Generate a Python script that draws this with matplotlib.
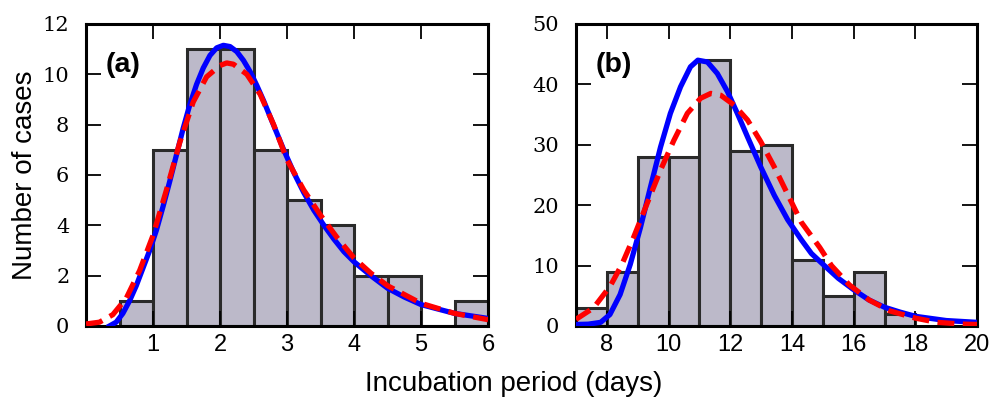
import numpy as np
import matplotlib.pyplot as plt

# panel (a): histogram, bin width 0.5 days
a_edges = [0.5, 1.0, 1.5, 2.0, 2.5, 3.0, 3.5, 4.0, 4.5, 5.0, 5.5]
a_counts = [1, 7, 11, 11, 7, 5, 4, 2, 2, 0, 1]
# fitted curves
a_blue_x = [0.35, 0.45, 0.55, 0.65, 0.75, 0.85, 0.95, 1.05, 1.15, 1.25, 1.35, 1.45, 1.55, 1.65, 1.75, 1.85, 1.95, 2.05, 2.15, 2.25, 2.35, 2.45, 2.55, 2.65, 2.75, 2.85, 2.95, 3.1, 3.25, 3.4, 3.55, 3.7, 3.85, 4.0, 4.25, 4.5, 4.75, 5.0, 5.5, 6.0]
a_blue_y = [0.0, 0.15, 0.5, 1.0, 1.6, 2.3, 3.0, 3.8, 4.75, 5.75, 6.8, 7.85, 8.8, 9.6, 10.25, 10.75, 11.05, 11.15, 11.1, 10.9, 10.55, 10.1, 9.55, 8.95, 8.3, 7.65, 7.0, 6.1, 5.3, 4.6, 4.0, 3.45, 2.95, 2.55, 2.0, 1.5, 1.15, 0.85, 0.5, 0.3]
a_red_x = [0.0, 0.2, 0.4, 0.6, 0.8, 1.0, 1.2, 1.4, 1.6, 1.8, 2.0, 2.1, 2.2, 2.4, 2.6, 2.8, 3.0, 3.25, 3.5, 3.75, 4.0, 4.25, 4.5, 5.0, 5.5, 6.0]
a_red_y = [0.08, 0.15, 0.45, 1.1, 2.2, 3.6, 5.4, 7.3, 8.9, 9.9, 10.35, 10.45, 10.4, 10.0, 9.2, 8.0, 6.6, 5.4, 4.4, 3.5, 2.7, 2.1, 1.6, 0.9, 0.5, 0.25]

# panel (b): histogram, bin width 1 day
b_edges = [7, 8, 9, 10, 11, 12, 13, 14, 15, 16, 17]
b_counts = [3, 9, 28, 28, 44, 29, 30, 11, 5, 9, 2]
b_blue_x = [7.0, 7.4, 7.8, 8.1, 8.43, 8.76, 9.09, 9.41, 9.74, 10.06, 10.39, 10.71, 10.95, 11.26, 11.58, 11.91, 12.23, 12.56, 12.99, 13.43, 13.86, 14.3, 14.63, 15.05, 15.5, 16.0, 16.5, 17.0, 17.5, 18.0, 19.0, 20.0]
b_blue_y = [0.25, 0.3, 0.6, 1.9, 5.2, 10.2, 16.3, 22.9, 29.6, 35.2, 39.6, 42.9, 44.0, 43.7, 41.8, 38.8, 35.2, 31.3, 26.3, 21.6, 17.6, 14.3, 12.0, 10.0, 7.9, 6.0, 4.3, 3.1, 2.3, 1.6, 0.9, 0.6]
b_red_x = [7.0, 7.57, 8.11, 8.49, 8.87, 9.3, 9.74, 10.17, 10.61, 11.04, 11.37, 11.69, 12.12, 12.56, 12.99, 13.43, 13.86, 14.3, 14.9, 15.28, 15.86, 16.5, 17.17, 18.0, 18.7, 19.6, 20.0]
b_red_y = [1.1, 3.0, 6.6, 10.2, 14.7, 20.2, 25.8, 30.7, 35.2, 37.7, 38.5, 38.2, 36.6, 34.1, 30.5, 26.3, 21.8, 17.2, 13.0, 10.0, 6.8, 4.3, 2.5, 1.3, 0.6, 0.3, 0.25]

plt.rcParams['font.family'] = 'Liberation Sans'
fig = plt.figure(figsize=(9.92, 3.99), dpi=100)
ax1 = fig.add_axes([0.0867, 0.183, 0.4053, 0.757])
ax2 = fig.add_axes([0.5806, 0.183, 0.4044, 0.757])

panels = [
	(ax1, a_edges, a_counts, 0.5, a_blue_x, a_blue_y, a_red_x, a_red_y, (0, 6), (0, 12), [1, 2, 3, 4, 5, 6], [0, 2, 4, 6, 8, 10, 12], '(a)'),
	(ax2, b_edges, b_counts, 1.0, b_blue_x, b_blue_y, b_red_x, b_red_y, (7, 20), (0, 50), [8, 10, 12, 14, 16, 18, 20], [0, 10, 20, 30, 40, 50], '(b)'),
]
for ax, edges, counts, w, bx, by, rx, ry, xl, yl, xt, yt, tag in panels:
	ax.bar(edges, counts, width=w, align='edge', color='#bcb9c9', edgecolor='#2a2a2a', linewidth=2.2, zorder=1)
	ax.plot(bx, by, color='#0000ff', lw=3.8, solid_joinstyle='round', zorder=3)
	ax.plot(rx, ry, color='#ff0000', lw=3.8, ls=(0, (3.2, 1.6)), zorder=4)
	ax.set_xlim(*xl)
	ax.set_ylim(*yl)
	ax.set_xticks(xt)
	ax.set_yticks(yt)
	ax.set_yticklabels([str(v) for v in yt], family='DejaVu Serif', fontsize=15)
	ax.tick_params(direction='in', length=10.5, width=1.3, top=True, right=True)
	ax.tick_params(axis='x', labelsize=17, pad=6)
	ax.tick_params(axis='y', pad=12)
	for s in ax.spines.values():
		s.set_linewidth(2.2)
	ax.text(0.05, 0.865, tag, transform=ax.transAxes, fontsize=20.5, fontweight='bold', va='center')

ax1.set_ylabel("Number of cases", fontsize=20, labelpad=3)
fig.text(0.518, 0.038, "Incubation period (days)", ha='center', va='center', fontsize=20)
fig.savefig("out.png", dpi=100)
